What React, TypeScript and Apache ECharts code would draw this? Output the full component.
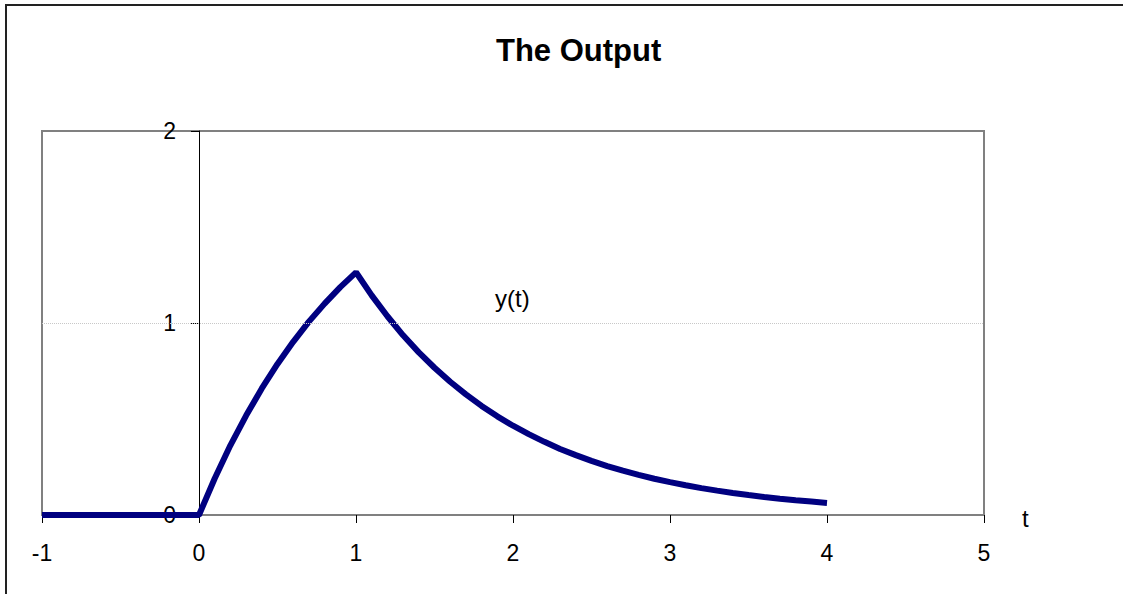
import React, { useEffect, useRef } from "react";
import * as echarts from "echarts";

const tValues = [-1, -0.5, 0, 0.1, 0.2, 0.3, 0.4, 0.5, 0.6, 0.7, 0.8, 0.9, 1.0,
  1.1, 1.2, 1.3, 1.4, 1.5, 1.6, 1.7, 1.8, 1.9, 2.0,
  2.1, 2.2, 2.3, 2.4, 2.5, 2.6, 2.7, 2.8, 2.9, 3.0,
  3.1, 3.2, 3.3, 3.4, 3.5, 3.6, 3.7, 3.8, 3.9, 4.0];
const yValues = [0, 0, 0, 0.19, 0.363, 0.518, 0.659, 0.787, 0.902, 1.007, 1.101, 1.187, 1.264,
  1.144, 1.035, 0.936, 0.847, 0.767, 0.694, 0.628, 0.568, 0.514, 0.465,
  0.421, 0.381, 0.344, 0.312, 0.282, 0.255, 0.231, 0.209, 0.189, 0.171,
  0.155, 0.14, 0.127, 0.115, 0.104, 0.094, 0.085, 0.077, 0.07, 0.063];
const xTicks = { min: -1, max: 5, step: 1 };
const yTicks = { min: 0, max: 2, step: 1 };
const titleText = "The Output";
const seriesName = "y(t)";
const xName = "t";

const FONT = "'Liberation Sans', Arial, sans-serif";

export default function App() {
  const ref = useRef<HTMLDivElement>(null);
  useEffect(() => {
    if (!ref.current) return;
    const chart = echarts.init(ref.current, null, { renderer: "svg" });
    chart.setOption({
      animation: false,
      backgroundColor: "#ffffff",
      grid: {
        left: 42,
        top: 131,
        width: 942,
        height: 384,
        show: true,
        borderColor: "#808080",
        borderWidth: 2,
        backgroundColor: "#ffffff",
      },
      xAxis: {
        type: "value",
        min: xTicks.min,
        max: xTicks.max,
        interval: xTicks.step,
        axisLine: { show: true, onZero: true, lineStyle: { color: "#808080", width: 2 } },
        axisTick: { show: true, inside: false, length: 8, lineStyle: { color: "#000", width: 1 } },
        axisLabel: { margin: 26, fontSize: 23, color: "#000", fontFamily: FONT },
        splitLine: { show: false },
      },
      yAxis: {
        type: "value",
        min: yTicks.min,
        max: yTicks.max,
        interval: yTicks.step,
        axisLine: { show: true, onZero: true, lineStyle: { color: "#000", width: 1 } },
        axisTick: { show: true, inside: false, length: 8, lineStyle: { color: "#000", width: 1 } },
        axisLabel: { margin: -134, fontSize: 23, color: "#000", fontFamily: FONT, align: "right" },
        splitLine: { show: false },
      },
      series: [
        {
          name: seriesName,
          type: "line",
          data: tValues.map((t, i) => [t, yValues[i]]),
          symbol: "none",
          lineStyle: { color: "#000080", width: 6 },
          markLine: {
            silent: true,
            symbol: "none",
            label: { show: false },
            lineStyle: { color: "#c8c8c8", type: "dotted", width: 1 },
            data: [{ yAxis: 1 }],
          },
          z: 3,
        },
      ],
      graphic: [
        {
          type: "rect",
          shape: { x: 6, y: 5, width: 1200, height: 700 },
          style: { fill: "none", stroke: "#222", lineWidth: 2 },
          silent: true,
        },
        {
          type: "text",
          left: 496,
          top: 35,
          style: { text: titleText, font: `bold 31px ${FONT}`, fill: "#000" },
        },
        {
          type: "text",
          left: 495,
          top: 286,
          style: { text: seriesName, font: `24px ${FONT}`, fill: "#000" },
        },
        {
          type: "text",
          left: 1022,
          top: 506,
          style: { text: xName, font: `24px ${FONT}`, fill: "#000" },
        },
      ],
    });
    return () => chart.dispose();
  }, []);
  return (
    <div
      ref={ref}
      style={{ position: "fixed", left: 0, top: 0, width: 1123, height: 594 }}
    />
  );
}
